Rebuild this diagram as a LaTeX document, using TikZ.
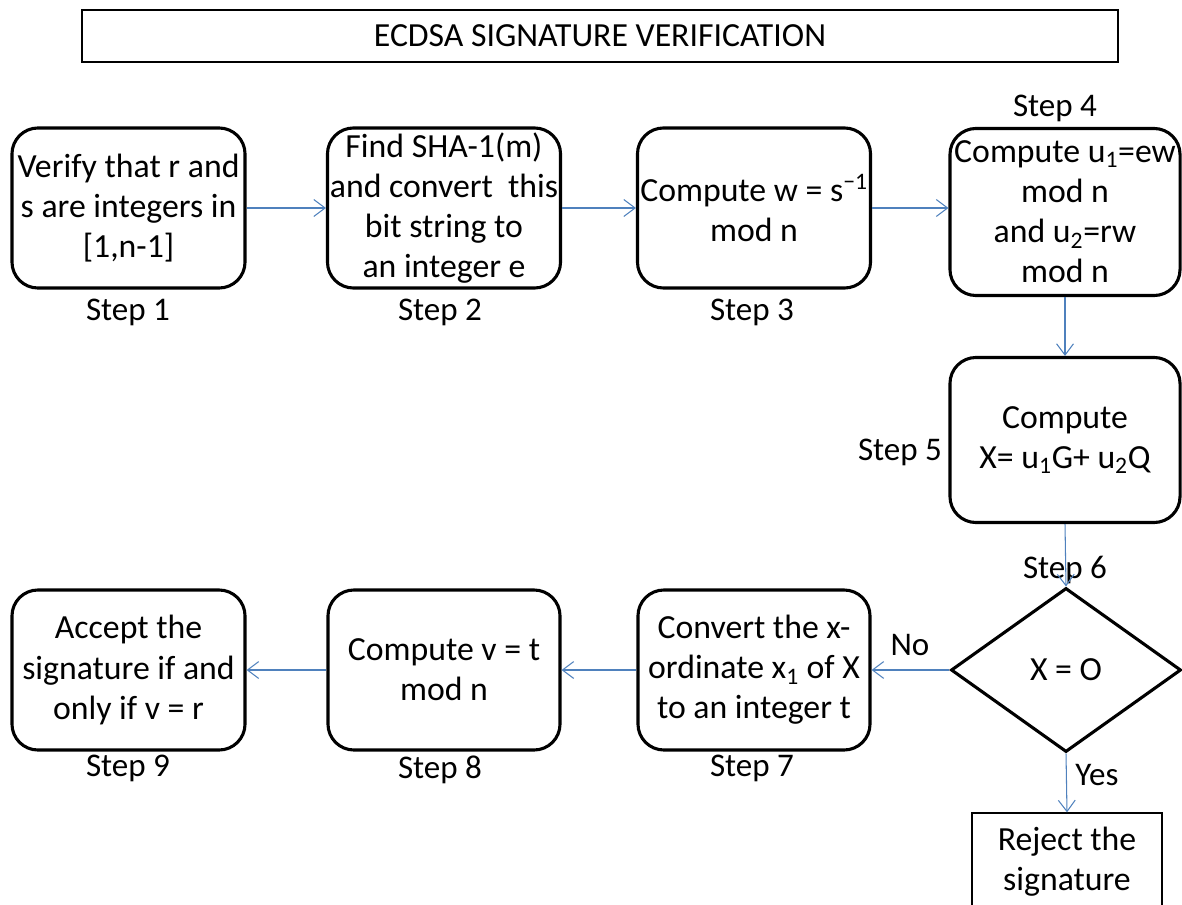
\documentclass[tikz,border=0pt]{standalone}
\usepackage{fontspec}
\setmainfont{Carlito}
\usetikzlibrary{shapes.geometric,arrows.meta}
\definecolor{arrblue}{RGB}{79,129,189}
\tikzset{
  stepbox/.style={draw=black, line width=2.2pt, rounded corners=0.65cm, align=center, inner sep=0pt,
    minimum width=5.825cm, minimum height=4cm, font=\fontsize{24}{28.5}\selectfont},
  lbl/.style={font=\fontsize{23.5}{26}\selectfont, inner sep=0pt},
  arr/.style={draw=arrblue, line width=0.75pt, -{Straight Barb[length=8pt,width=12pt,line width=0.75pt]}},
}
\begin{document}
\begin{tikzpicture}[x=0.025cm,y=-0.025cm]
\clip (0,0) rectangle (1182,905);
% title
\node[draw=black, line width=1.6pt, minimum width=25.9cm, minimum height=1.3cm, inner sep=0pt,
  font=\fontsize{24}{26}\selectfont] (title) at (600,36) {ECDSA SIGNATURE VERIFICATION};
% top row
\node[stepbox] (b1) at (128.5,208) {Verify that r and\\s are integers in\\{[}1,n-1]};
\node[stepbox] (b2) at (444,208) {Find SHA-1(m)\\and convert\ \ this\\bit string to\\an integer e};
\node[stepbox] (b3) at (754,208) {Compute w = s\textsuperscript{−1}\\mod n};
\node[stepbox, minimum width=5.75cm, minimum height=4.175cm] (b4) at (1065,212)
  {Compute u\textsubscript{1}=ew\\mod n\\and u\textsubscript{2}=rw\\mod n};
\node[lbl] (s1) at (128,312) {Step 1};
\node[lbl] (s2) at (440,312) {Step 2};
\node[lbl] (s3) at (752,312) {Step 3};
\node[lbl] (s4) at (1055,108) {Step 4};
% step 5
\node[stepbox, minimum width=5.75cm, minimum height=4.125cm] (b5) at (1065,440)
  {Compute\\X= u\textsubscript{1}G+ u\textsubscript{2}Q};
\node[lbl] (s5) at (900,452) {Step 5};
% diamond
\node[diamond, draw=black, line width=2.2pt, minimum width=5.75cm, minimum height=4.1cm, inner sep=0pt,
  font=\fontsize{24}{26}\selectfont] (d) at (1066,670) {X = O};
\node[lbl] (s6) at (1065,570) {Step 6};
% bottom row
\node[stepbox, minimum width=5.8cm] (b7) at (754,670) {Convert the x-\\ordinate x\textsubscript{1} of X\\to an integer t};
\node[stepbox, minimum width=5.8cm] (b8) at (444,670) {Compute v = t\\mod n};
\node[stepbox] (b9) at (128.5,670) {Accept the\\signature if and\\only if v = r};
\node[lbl] (s7) at (752,768) {Step 7};
\node[lbl] (s8) at (440,770) {Step 8};
\node[lbl] (s9) at (128,768) {Step 9};
% reject
\node[draw=black, line width=0.9pt, minimum width=4.75cm, minimum height=2.425cm, inner sep=0pt, align=center,
  font=\fontsize{24}{28.5}\selectfont] (rj) at (1067,861.5) {Reject the\\signature};
\node[lbl] (no) at (910,645) {No};
\node[lbl] (yes) at (1097,775) {Yes};
% connectors
\draw[arr] (b1.east) -- (b2.west);
\draw[arr] (b2.east) -- (b3.west);
\draw[arr] (b3.east) -- (b4.west |- b3.east);
\draw[arr] (b4.south) -- (b5.north);
\draw[arr] (b5.south) -- (d.north);
\draw[arr] (d.west) -- (b7.east);
\draw[arr] (b7.west) -- (b8.east);
\draw[arr] (b8.west) -- (b9.east);
\draw[arr] (d.south) -- (rj.north);
\end{tikzpicture}
\end{document}
